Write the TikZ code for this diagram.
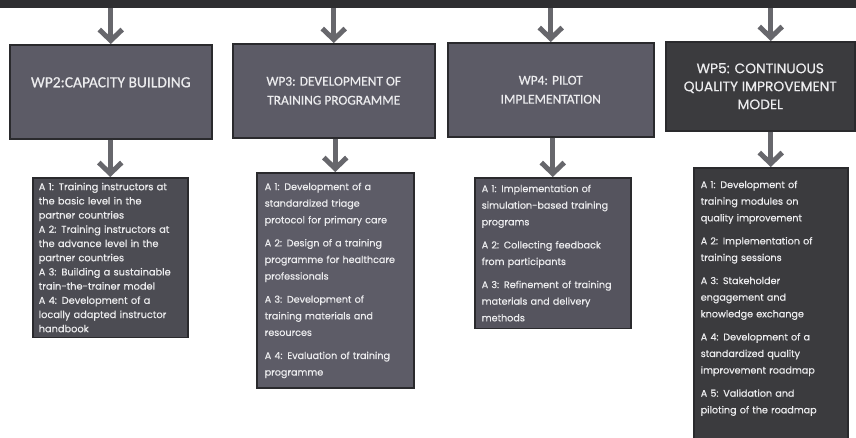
\documentclass[tikz,border=0pt]{standalone}
\usepackage{fontspec}
\newfontfamily\wpfont{Carlito}[FakeBold=0.6]
\newfontfamily\actfont{Poppins}[FakeBold=0.5]
\usetikzlibrary{arrows.meta}
\definecolor{bargray}{HTML}{2E2E31}
\definecolor{edgegray}{HTML}{2A2A2D}
\definecolor{wpgray}{HTML}{5C5B66}
\definecolor{wpdark}{HTML}{3B3B3E}
\definecolor{arrowgray}{HTML}{67676C}
\definecolor{actgray}{HTML}{4C4C53}
\definecolor{actlight}{HTML}{5D5C67}
\definecolor{txtwhite}{HTML}{ECECEE}
\begin{document}
\begin{tikzpicture}[x=1pt,y=-1pt, line join=miter,
	wpbox/.style={draw=edgegray, line width=1.5pt, fill=wpgray, text=txtwhite, align=center,
		anchor=north west, inner sep=0pt, font=\wpfont\fontsize{13.4}{19}\selectfont},
	actbox/.style={draw=edgegray, line width=1.5pt, fill=actlight, text=txtwhite, align=left,
		anchor=north west, inner xsep=7pt, inner ysep=9pt, font=\actfont\fontsize{9.6}{16.6}\selectfont},
	arr/.style={draw=arrowgray, line width=5pt, -{Straight Barb[length=11pt,width=23pt]}}]
	\useasboundingbox (0,0) rectangle (856,437);
	\node[fill=bargray, anchor=north west, minimum width=856pt, minimum height=8pt, inner sep=0pt] (top) at (0,0) {};
	
	% work packages
	\node[wpbox, minimum width=202pt, minimum height=94pt, font=\wpfont\fontsize{15.5}{19}\selectfont] (wp2) at (9,44) {WP2:CAPACITY BUILDING\\[0pt]};
	\node[wpbox, minimum width=202pt, minimum height=94pt] (wp3) at (232,43) {WP3: DEVELOPMENT OF\\TRAINING PROGRAMME};
	\node[wpbox, minimum width=206pt, minimum height=94pt] (wp4) at (447,42) {WP4: PILOT\\IMPLEMENTATION};
	\node[wpbox, fill=wpdark, minimum width=189pt, minimum height=89pt, font=\actfont\fontsize{13.8}{18}\selectfont] (wp5) at (665,41) {WP5: CONTINUOUS\\QUALITY IMPROVEMENT\\MODEL};
	
	% activities
	\node[actbox, fill=actgray, text width=143pt, inner xsep=6pt, inner ysep=5pt, font=\actfont\fontsize{9.8}{14.2}\selectfont] (act2) at (32,177) {A 1: Training instructors at\\the basic level in the\\partner countries\\A 2: Training instructors at\\the advance level in the\\partner countries\\A 3: Building a sustainable\\train-the-trainer model\\A 4: Development of a\\locally adapted instructor\\handbook};
	\node[actbox, text width=141pt, inner xsep=8pt, inner ysep=10pt] (act3) at (256,172) {A 1: Development of a\\standardized triage\\protocol for primary care\\[6.5pt]A 2: Design of a training\\programme for healthcare\\professionals\\[6.5pt]A 3: Development of\\training materials and\\resources\\[6.5pt]A 4: Evaluation of training\\programme};
	\node[actbox, fill=wpgray!92!black, text width=142pt, inner ysep=7pt] (act4) at (474,177) {A 1: Implementation of\\simulation-based training\\programs\\[6.5pt]A 2: Collecting feedback\\from participants\\[6.5pt]A 3: Refinement of training\\materials and delivery\\methods};
	\node[actbox, fill=wpdark, text width=140pt, inner ysep=13pt] (act5) at (693,167) {A 1: Development of\\training modules on\\quality improvement\\[6.5pt]A 2: Implementation of\\training sessions\\[6.5pt]A 3: Stakeholder\\engagement and\\knowledge exchange\\[6.5pt]A 4: Development of a\\standardized quality\\improvement roadmap\\[6.5pt]A 5: Validation and\\piloting of the roadmap\rule[-20pt]{0pt}{0pt}};
	
	\draw[arr] (top.south -| wp2.north) -- (wp2.north);
	\draw[arr] (top.south -| wp3.north) -- (wp3.north);
	\draw[arr] (top.south -| wp4.north) -- (wp4.north);
	\draw[arr] (top.south -| act5.north) -- (wp5.north -| act5.north);
	\draw[arr] (wp2.south -| act2.north) -- (act2.north);
	\draw[arr] (wp3.south -| act3.north) -- (act3.north);
	\draw[arr] (wp4.south -| act4.north) -- (act4.north);
	\draw[arr] (wp5.south -| act5.north) -- (act5.north);
\end{tikzpicture}
\end{document}
